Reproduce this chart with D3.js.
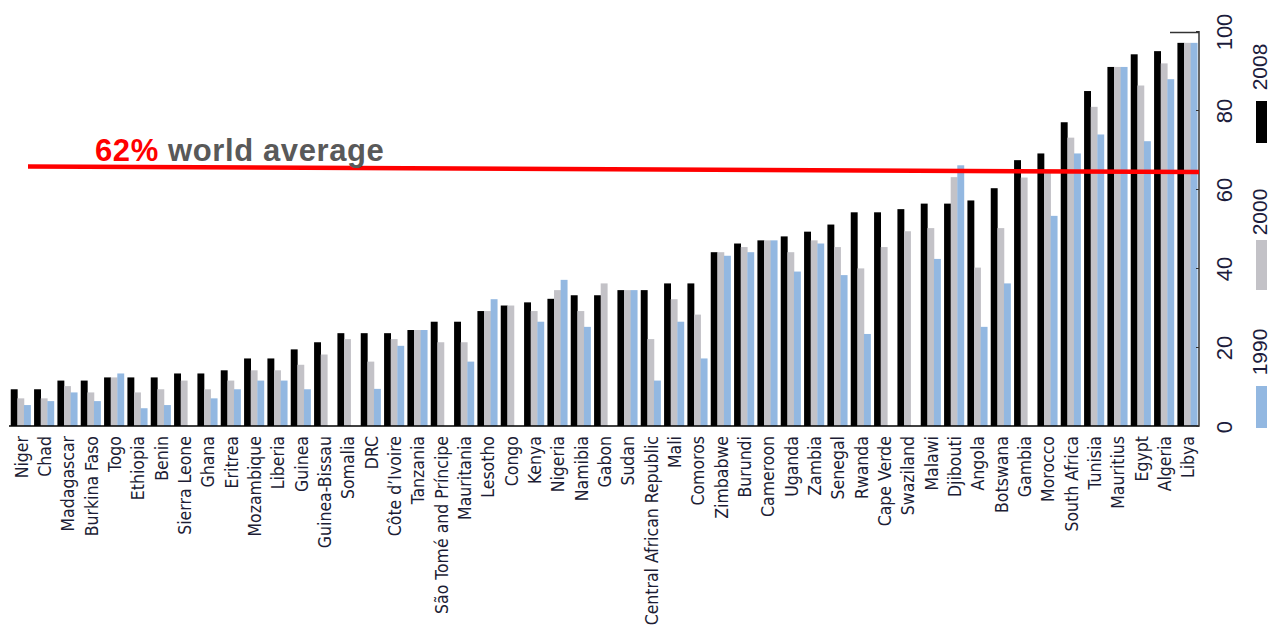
<!DOCTYPE html>
<html>
<head>
<meta charset="utf-8">
<script src="https://cdn.jsdelivr.net/npm/d3@7"></script>
<style>
  html, body { margin: 0; padding: 0; background: #fff; }
  svg { display: block; }
  .country { font-family: "DejaVu Sans Condensed", "Liberation Sans Narrow", sans-serif; font-stretch: condensed; font-size: 17.5px; fill: #1c1c34; }
  .tick-label { font-family: "Liberation Sans", Arial, sans-serif; font-size: 22px; fill: #1c1c3c; }
  .legend-label { font-family: "Liberation Sans", Arial, sans-serif; font-size: 21px; fill: #1c1c3c; }
  .note { font-family: "Liberation Sans", Arial, sans-serif; font-size: 31px; font-weight: bold; letter-spacing: 0.6px; }
</style>
</head>
<body>
<svg id="chart" width="1271" height="625"></svg>
<script>
var countries = ['Niger', 'Chad', 'Madagascar', 'Burkina Faso', 'Togo', 'Ethiopia', 'Benin',
  'Sierra Leone', 'Ghana', 'Eritrea', 'Mozambique', 'Liberia', 'Guinea', 'Guinea-Bissau',
  'Somalia', 'DRC', 'Côte d\u2019Ivoire', 'Tanzania', 'São Tomé and Príncipe', 'Mauritania',
  'Lesotho', 'Congo', 'Kenya', 'Nigeria', 'Namibia', 'Gabon', 'Sudan', 'Central African Republic',
  'Mali', 'Comoros', 'Zimbabwe', 'Burundi', 'Cameroon', 'Uganda', 'Zambia', 'Senegal', 'Rwanda',
  'Cape Verde', 'Swaziland', 'Malawi', 'Djibouti', 'Angola', 'Botswana', 'Gambia', 'Morocco',
  'South Africa', 'Tunisia', 'Mauritius', 'Egypt', 'Algeria', 'Libya'];

var values2008 = [9.3, 9.3, 11.5, 11.5, 12.3, 12.3, 12.3, 13.3, 13.3, 14.1, 17.1, 17.1, 19.4, 21.2,
  23.5, 23.5, 23.5, 24.3, 26.4, 26.4, 29.1, 30.5, 31.3, 32.2, 33.1, 33.1, 34.4, 34.4, 36.1, 36.1,
  44, 46.2, 47, 48, 49.2, 51, 54.1, 54.1, 54.9, 56.3, 56.3, 57.1, 60.2, 67.3, 69, 76.9, 84.8,
  90.9, 94.1, 94.9, 97];
var values2000 = [7, 7, 10.1, 8.5, 12.3, 8.5, 9.3, 11.5, 9.3, 11.5, 14.1, 14.1, 15.5, 18.1,
  22, 16.3, 22, 24.3, 21.2, 21.2, 29.1, 30.5, 29.1, 34.4, 29.1, 36.1, 34.4, 22, 32.1, 28.2,
  44, 45.3, 47, 44, 47, 45.3, 39.9, 45.3, 49.3, 50.1, 63, 40.1, 50.1, 62.9, 64.5, 73, 80.8,
  90.9, 86.2, 91.8, 97];
var values1990 = [5.3, 6.3, 8.5, 6.3, 13.3, 4.5, 5.3, 0, 7, 9.3, 11.5, 11.5, 9.3, 0,
  0, 9.4, 20.3, 24.3, 0, 16.3, 32.1, 0, 26.4, 37, 25.1, 0, 34.4, 11.5, 26.4, 17.1,
  43.1, 44, 47, 39.1, 46.2, 38.2, 23.3, 0, 0, 42.3, 66, 25.1, 36.1, 0, 53.2, 69, 73.8,
  90.9, 72.1, 87.8, 97];

var seriesKeys = ['2008', '2000', '1990'];
var seriesColors = ['#000000', '#c3c2c7', '#93b8e1'];
var yTicks = [0, 20, 40, 60, 80, 100];
// world average line, drawn slightly tilted as in the original
var averageLine = [65.7, 64.3];

var svg = d3.select('#chart');
var plotLeft = 9, plotRight = 1199, plotBottom = 426, plotTop = 31;

var x = d3.scaleBand()
  .domain(countries)
  .range([plotLeft, plotRight])
  .paddingInner(0.15)
  .paddingOuter(0.075);

var xSub = d3.scaleBand()
  .domain(seriesKeys)
  .range([0, x.bandwidth()]);

var y = d3.scaleLinear()
  .domain([0, 100])
  .range([plotBottom, plotTop]);

var color = d3.scaleOrdinal().domain(seriesKeys).range(seriesColors);

var rows = countries.map(function (c, i) {
  return { country: c, values: [values2008[i], values2000[i], values1990[i]] };
});

// bars
var groups = svg.append('g')
  .selectAll('g')
  .data(rows)
  .enter()
  .append('g')
  .attr('transform', function (d) { return 'translate(' + x(d.country) + ',0)'; });

groups.selectAll('rect')
  .data(function (d) {
    return d.values.map(function (v, i) { return { key: seriesKeys[i], value: v }; });
  })
  .enter()
  .append('rect')
  .attr('x', function (d) { return xSub(d.key); })
  .attr('width', xSub.bandwidth() + 0.3)
  .attr('y', function (d) { return y(d.value); })
  .attr('height', function (d) { return y(0) - y(d.value); })
  .attr('fill', function (d) { return color(d.key); });

// baseline
svg.append('line')
  .attr('x1', plotLeft).attr('x2', plotRight)
  .attr('y1', y(0)).attr('y2', y(0))
  .attr('stroke', '#000').attr('stroke-width', 1.5);

// right axis
var axis = svg.append('g')
  .attr('transform', 'translate(' + plotRight + ',0)')
  .call(d3.axisLeft(y).tickValues(yTicks).tickSize(3).tickFormat(''));
axis.select('.domain').attr('stroke', '#333').attr('stroke-width', 1.5).attr('d', 'M-3,' + y(0) + 'H0V' + y(100));
axis.selectAll('.tick line').attr('stroke', '#333');

svg.append('line')
  .attr('x1', plotRight - 29).attr('x2', plotRight)
  .attr('y1', y(100) + 1.5).attr('y2', y(100) + 1.5)
  .attr('stroke', '#333').attr('stroke-width', 1.5);

svg.append('g')
  .selectAll('text')
  .data(yTicks)
  .enter()
  .append('text')
  .attr('class', 'tick-label')
  .attr('transform', function (d) { return 'translate(1224,' + (y(d) + 1) + ') rotate(-90)'; })
  .attr('text-anchor', 'middle')
  .attr('dominant-baseline', 'central')
  .text(function (d) { return d; });

// country labels
svg.append('g')
  .selectAll('text')
  .data(countries)
  .enter()
  .append('text')
  .attr('class', 'country')
  .attr('transform', function (d) {
    return 'translate(' + (x(d) + x.bandwidth() / 2 + 1) + ',436) rotate(-90)';
  })
  .attr('text-anchor', 'end')
  .attr('dominant-baseline', 'central')
  .text(function (d) { return d; });

// legend
var legendTops = [43, 188, 328];
var legend = svg.append('g')
  .selectAll('g')
  .data(seriesKeys)
  .enter()
  .append('g')
  .attr('transform', function (d, i) { return 'translate(1256,' + legendTops[i] + ')'; });

legend.append('text')
  .attr('class', 'legend-label')
  .attr('transform', 'translate(3.5,24) rotate(-90)')
  .attr('text-anchor', 'middle')
  .attr('dominant-baseline', 'central')
  .text(function (d) { return d; });

legend.append('rect')
  .attr('x', 0)
  .attr('y', function (d, i) { return i === 1 ? 52 : 58; })
  .attr('width', 11)
  .attr('height', function (d, i) { return i === 1 ? 50 : 42; })
  .attr('fill', function (d) { return color(d); });

// world average
svg.append('line')
  .attr('x1', 28).attr('x2', plotRight)
  .attr('y1', y(averageLine[0])).attr('y2', y(averageLine[1]))
  .attr('stroke', '#ff0000').attr('stroke-width', 4.5);

var note = svg.append('text')
  .attr('class', 'note')
  .attr('x', 95)
  .attr('y', 161);
note.append('tspan').attr('fill', '#ff0000').text('62%');
note.append('tspan').attr('fill', '#595959').text(' world average');
</script>
</body>
</html>
